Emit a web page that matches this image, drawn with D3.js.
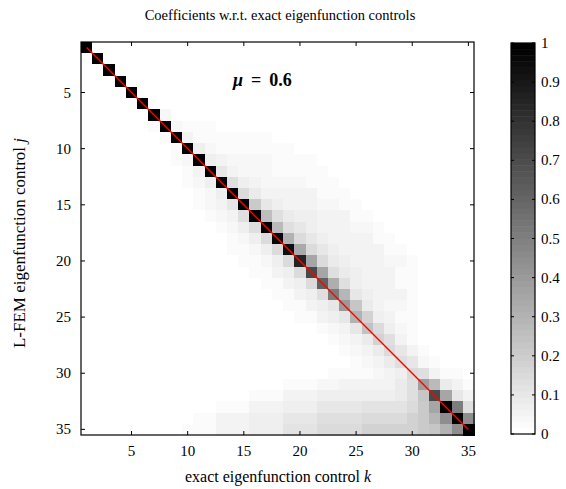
<!DOCTYPE html>
<html><head><meta charset="utf-8">
<script src="https://cdn.jsdelivr.net/npm/d3@7"></script>
<style>
html,body{margin:0;padding:0;background:#fff;}
text{font-family:"Liberation Serif","DejaVu Serif",serif;fill:#000;}
</style></head>
<body><svg id="chart" width="566" height="489"></svg>
<script>
// k = 1..35 (columns: exact eigenfunction control), j = 1..35 (rows: L-FEM eigenfunction control)
const kValues = d3.range(1, 36);
const jValues = d3.range(1, 36);
const xTicks = [5, 10, 15, 20, 25, 30, 35];
const yTicks = [5, 10, 15, 20, 25, 30, 35];
const cbTicks = [0, 0.1, 0.2, 0.3, 0.4, 0.5, 0.6, 0.7, 0.8, 0.9, 1];
const titleText = "Coefficients w.r.t. exact eigenfunction controls";
const muLabel = "0.6";

// coefficient magnitudes, one row per j (35 entries, k = 1..35)
const row01 = [1,0,0,0,0,0,0,0,0,0,0,0,0,0,0,0,0,0,0,0,0,0,0,0,0,0,0,0,0,0,0,0,0,0,0];
const row02 = [0,1,0,0,0,0,0,0,0,0,0,0,0,0,0,0,0,0,0,0,0,0,0,0,0,0,0,0,0,0,0,0,0,0,0];
const row03 = [0,0,1,0,0,0,0,0,0,0,0,0,0,0,0,0,0,0,0,0,0,0,0,0,0,0,0,0,0,0,0,0,0,0,0];
const row04 = [0,0,0,1,0,0,0,0,0,0,0,0,0,0,0,0,0,0,0,0,0,0,0,0,0,0,0,0,0,0,0,0,0,0,0];
const row05 = [0,0,0,0,1,0,0,0,0,0,0,0,0,0,0,0,0,0,0,0,0,0,0,0,0,0,0,0,0,0,0,0,0,0,0];
const row06 = [0,0,0,0,0,1,0,0,0,0,0,0,0,0,0,0,0,0,0,0,0,0,0,0,0,0,0,0,0,0,0,0,0,0,0];
const row07 = [0,0,0,0,0,0,1,.03,0,0,0,0,0,0,0,0,0,0,0,0,0,0,0,0,0,0,0,0,0,0,0,0,0,0,0];
const row08 = [0,0,0,0,0,0,.02,1,.03,.02,.02,.02,0,0,0,0,0,0,0,0,0,0,0,0,0,0,0,0,0,0,0,0,0,0,0];
const row09 = [0,0,0,0,0,0,0,.02,1,.04,.02,.02,.02,.02,.02,.02,.01,0,0,0,0,0,0,0,0,0,0,0,0,0,0,0,0,0,0];
const row10 = [0,0,0,0,0,0,0,0,.02,1,.06,.03,.02,.02,.02,.02,.02,.01,.01,0,0,0,0,0,0,0,0,0,0,0,0,0,0,0,0];
const row11 = [0,0,0,0,0,0,0,0,.02,.03,1,.07,.04,.03,.03,.03,.03,.02,.02,.02,.02,0,0,0,0,0,0,0,0,0,0,0,0,0,0];
const row12 = [0,0,0,0,0,0,0,0,0,.02,.04,1,.09,.05,.03,.03,.03,.02,.02,.02,.02,.02,0,0,0,0,0,0,0,0,0,0,0,0,0];
const row13 = [0,0,0,0,0,0,0,0,0,.02,.03,.06,1,.12,.06,.04,.03,.03,.03,.03,.02,.02,.02,0,0,0,0,0,0,0,0,0,0,0,0];
const row14 = [0,0,0,0,0,0,0,0,0,0,.02,.03,.07,1,.15,.08,.05,.04,.04,.04,.04,.02,.02,.02,0,0,0,0,0,0,0,0,0,0,0];
const row15 = [0,0,0,0,0,0,0,0,0,0,.02,.03,.05,.1,1,.2,.1,.07,.05,.05,.05,.03,.03,.02,.02,0,0,0,0,0,0,0,0,0,0];
const row16 = [0,0,0,0,0,0,0,0,0,0,0,.02,.03,.05,.12,1,.25,.12,.08,.06,.06,.04,.04,.04,.02,.02,0,0,0,0,0,0,0,0,0];
const row17 = [0,0,0,0,0,0,0,0,0,0,0,0,.02,.03,.06,.12,1,.27,.13,.09,.07,.05,.05,.05,.03,.03,.02,0,0,0,0,0,0,0,0];
const row18 = [0,0,0,0,0,0,0,0,0,0,0,0,0,.02,.03,.06,.15,.97,.3,.14,.09,.07,.05,.05,.04,.04,.02,.02,0,0,0,0,0,0,0];
const row19 = [0,0,0,0,0,0,0,0,0,0,0,0,0,.01,.02,.03,.06,.15,.93,.33,.14,.1,.07,.05,.04,.04,.04,.02,.02,0,0,0,0,0,0];
const row20 = [0,0,0,0,0,0,0,0,0,0,0,0,0,0,.02,.02,.03,.06,.15,.85,.35,.14,.08,.06,.05,.04,.04,.03,.03,.01,0,0,0,0,0];
const row21 = [0,0,0,0,0,0,0,0,0,0,0,0,0,0,0,.02,.02,.04,.07,.15,.72,.35,.13,.08,.06,.04,.04,.04,.02,.02,0,0,0,0,0];
const row22 = [0,0,0,0,0,0,0,0,0,0,0,0,0,0,0,0,.02,.02,.04,.07,.14,.62,.32,.12,.07,.05,.05,.05,.02,.02,0,0,0,0,0];
const row23 = [0,0,0,0,0,0,0,0,0,0,0,0,0,0,0,0,0,.02,.02,.04,.06,.12,.5,.28,.1,.06,.04,.04,.04,.02,0,0,0,0,0];
const row24 = [0,0,0,0,0,0,0,0,0,0,0,0,0,0,0,0,0,0,.02,.02,.04,.06,.1,.4,.22,.08,.05,.03,.03,.02,0,0,0,0,0];
const row25 = [0,0,0,0,0,0,0,0,0,0,0,0,0,0,0,0,0,0,0,.02,.02,.04,.06,.1,.3,.18,.06,.04,.02,.02,0,0,0,0,0];
const row26 = [0,0,0,0,0,0,0,0,0,0,0,0,0,0,0,0,0,0,0,0,0,.02,.03,.05,.1,.24,.14,.06,.03,.02,0,0,0,0,0];
const row27 = [0,0,0,0,0,0,0,0,0,0,0,0,0,0,0,0,0,0,0,0,0,0,.02,.03,.05,.08,.18,.12,.05,.02,0,0,0,0,0];
const row28 = [0,0,0,0,0,0,0,0,0,0,0,0,0,0,0,0,0,0,0,0,0,0,0,.02,.03,.05,.08,.15,.1,.04,.02,0,0,0,0];
const row29 = [0,0,0,0,0,0,0,0,0,0,0,0,0,0,0,0,0,0,0,0,0,0,0,0,.02,.03,.05,.08,.12,.1,.03,.01,0,0,0];
const row30 = [0,0,0,0,0,0,0,0,0,0,0,0,0,0,0,0,0,0,0,0,0,0,.02,.02,.02,.02,.03,.04,.07,.15,.12,.04,.02,.02,0];
const row31 = [0,0,0,0,0,0,0,0,0,0,0,0,0,0,0,0,0,0,.02,.02,.02,.03,.03,.04,.04,.04,.05,.05,.08,.12,.38,.27,.08,.04,.02];
const row32 = [0,0,0,0,0,0,0,0,0,0,0,0,0,0,0,.02,.02,.02,.04,.04,.04,.06,.06,.06,.06,.07,.07,.07,.08,.12,.22,.72,.35,.1,.05];
const row33 = [0,0,0,0,0,0,0,0,0,0,0,0,.02,.02,.02,.04,.04,.04,.07,.07,.07,.09,.09,.09,.09,.11,.11,.11,.11,.14,.2,.35,1,.5,.12];
const row34 = [0,0,0,0,0,0,0,0,0,0,.02,.02,.04,.04,.04,.07,.07,.07,.1,.1,.1,.13,.13,.13,.13,.15,.15,.15,.15,.17,.2,.28,.45,1,.45];
const row35 = [0,0,0,0,0,0,0,0,0,.02,.02,.02,.04,.04,.04,.07,.07,.07,.11,.11,.11,.15,.15,.15,.15,.17,.17,.17,.17,.18,.2,.22,.3,.45,1];

const rows = [row01,row02,row03,row04,row05,row06,row07,row08,row09,row10,
  row11,row12,row13,row14,row15,row16,row17,row18,row19,row20,
  row21,row22,row23,row24,row25,row26,row27,row28,row29,row30,
  row31,row32,row33,row34,row35];

const cells = [];
rows.forEach((r, ji) => r.forEach((v, ki) => cells.push({j: jValues[ji], k: kValues[ki], v})));

const svg = d3.select("#chart");
const L = 81, R = 474, T = 42, B = 435;

const x = d3.scaleBand().domain(kValues).range([L, R]).padding(0);
const y = d3.scaleBand().domain(jValues).range([T, B]).padding(0);
const xc = d => x(d) + x.bandwidth() / 2;
const yc = d => y(d) + y.bandwidth() / 2;

// 64-level inverted gray colormap
const color = v => {
  const idx = Math.round(Math.max(0, Math.min(1, v)) * 63);
  const g = Math.round(255 * (1 - idx / 63));
  return `rgb(${g},${g},${g})`;
};

svg.append("g").attr("shape-rendering", "crispEdges").selectAll("rect").data(cells).join("rect")
  .attr("x", d => x(d.k)).attr("y", d => y(d.j))
  .attr("width", x.bandwidth() + 0.5).attr("height", y.bandwidth() + 0.5)
  .attr("fill", d => color(d.v));

// red diagonal line through centers of (1,1) and (35,35)
svg.append("line")
  .attr("x1", xc(kValues[0])).attr("y1", yc(jValues[0]))
  .attr("x2", xc(kValues[34])).attr("y2", yc(jValues[34]))
  .attr("stroke", "#ff0000").attr("stroke-width", 1.4);

// axes box
svg.append("rect").attr("x", L).attr("y", T).attr("width", R - L).attr("height", B - T)
  .attr("fill", "none").attr("stroke", "#000").attr("stroke-width", 1.2);

const tl = 4;
const xPos = d => xc(d);
const yPos = d => yc(d);
const tg = svg.append("g").attr("stroke", "#000").attr("stroke-width", 1);
xTicks.forEach(t => {
  tg.append("line").attr("x1", xPos(t)).attr("x2", xPos(t)).attr("y1", B).attr("y2", B - tl);
  tg.append("line").attr("x1", xPos(t)).attr("x2", xPos(t)).attr("y1", T).attr("y2", T + tl);
});
yTicks.forEach(t => {
  tg.append("line").attr("y1", yPos(t)).attr("y2", yPos(t)).attr("x1", L).attr("x2", L + tl);
  tg.append("line").attr("y1", yPos(t)).attr("y2", yPos(t)).attr("x1", R).attr("x2", R - tl);
});
svg.append("g").selectAll("text").data(xTicks).join("text")
  .attr("x", d => xPos(d)).attr("y", 456).attr("text-anchor", "middle")
  .attr("font-size", 15).text(d => d);
svg.append("g").selectAll("text").data(yTicks).join("text")
  .attr("x", 71).attr("y", d => yPos(d) + 5).attr("text-anchor", "end")
  .attr("font-size", 15).text(d => d);

// title
svg.append("text").attr("x", 280).attr("y", 20).attr("text-anchor", "middle")
  .attr("font-size", 14.5).text(titleText);

// x label
const xl = svg.append("text").attr("x", 278).attr("y", 482).attr("text-anchor", "middle").attr("font-size", 16);
xl.append("tspan").text("exact eigenfunction control ");
xl.append("tspan").attr("font-style", "italic").text("k");

// y label
const yl = svg.append("text").attr("transform", "translate(25,243) rotate(-90)")
  .attr("text-anchor", "middle").attr("font-size", 17);
yl.append("tspan").text("L-FEM eigenfunction control ");
yl.append("tspan").attr("font-style", "italic").text("j");

// mu annotation
const mu = svg.append("text").attr("x", 233).attr("y", 86).attr("font-size", 18).attr("font-weight", "bold");
mu.append("tspan").attr("font-style", "italic").text("μ");
mu.append("tspan").attr("dx", 8).text("=");
mu.append("tspan").attr("dx", 8).text(muLabel);

// colorbar
const cbL = 511, cbR = 535, cbT = 43, cbB = 434;
const cy = d3.scaleLinear().domain([0, 1]).range([cbB, cbT]);
const levels = d3.range(64);
svg.append("g").selectAll("rect").data(levels).join("rect")
  .attr("x", cbL).attr("width", cbR - cbL)
  .attr("y", d => cy((d + 1) / 64)).attr("height", d => cy(d / 64) - cy((d + 1) / 64) + 0.5)
  .attr("fill", d => color(d / 63));
svg.append("rect").attr("x", cbL).attr("y", cbT).attr("width", cbR - cbL).attr("height", cbB - cbT)
  .attr("fill", "none").attr("stroke", "#000").attr("stroke-width", 1.2);
const cg = svg.append("g").attr("stroke", "#000").attr("stroke-width", 1);
cbTicks.forEach(t => {
  cg.append("line").attr("x1", cbL).attr("x2", cbL + 3).attr("y1", cy(t)).attr("y2", cy(t));
  cg.append("line").attr("x1", cbR).attr("x2", cbR - 3).attr("y1", cy(t)).attr("y2", cy(t));
});
svg.append("g").selectAll("text").data(cbTicks).join("text")
  .attr("x", 541).attr("y", d => cy(d) + 5).attr("font-size", 15)
  .text(d => d3.format("~g")(d));
</script></body></html>
